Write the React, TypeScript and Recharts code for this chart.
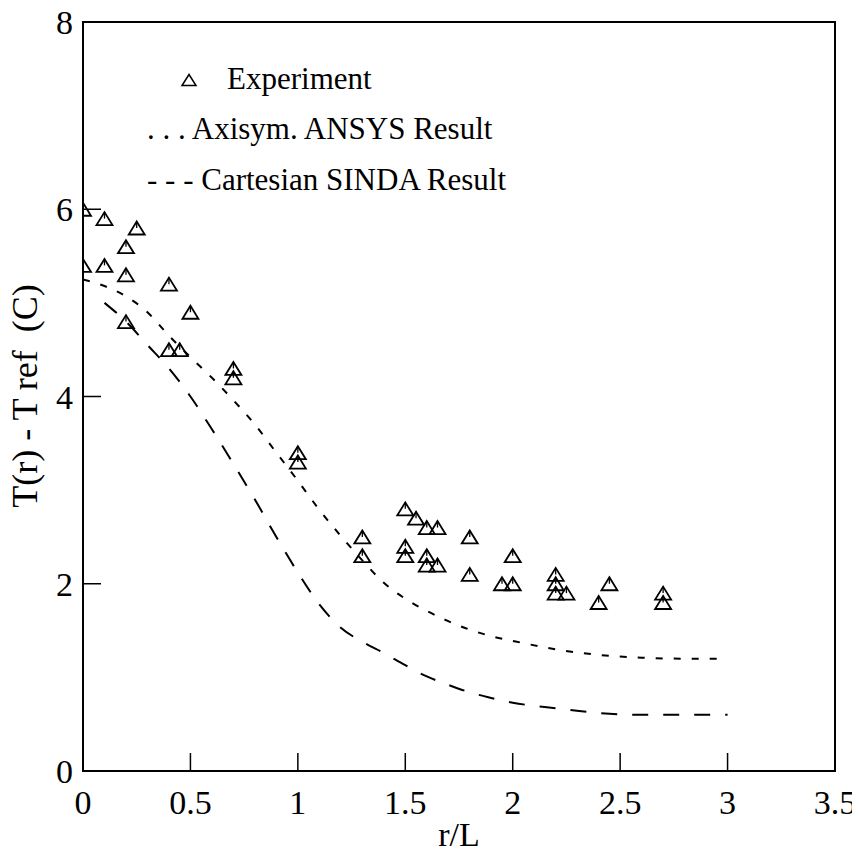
import React from 'react';
import { ComposedChart, XAxis, YAxis, Scatter, Line, ReferenceArea } from 'recharts';

const experimentX = [0, 0, 0.1, 0.1, 0.2, 0.2, 0.2, 0.25, 0.4, 0.4, 0.45, 0.5, 0.7, 0.7, 1.0, 1.0, 1.3, 1.3, 1.5, 1.5, 1.5, 1.55, 1.6, 1.6, 1.6, 1.65, 1.65, 1.8, 1.8, 1.95, 2.0, 2.0, 2.2, 2.2, 2.2, 2.25, 2.4, 2.45, 2.7, 2.7];
const experimentY = [6.0, 5.4, 5.9, 5.4, 5.6, 5.3, 4.8, 5.8, 5.2, 4.5, 4.5, 4.9, 4.3, 4.2, 3.4, 3.3, 2.5, 2.3, 2.8, 2.4, 2.3, 2.7, 2.6, 2.3, 2.2, 2.6, 2.2, 2.5, 2.1, 2.0, 2.3, 2.0, 2.1, 2.0, 1.9, 1.9, 1.8, 2.0, 1.9, 1.8];

const ansysX = [0, 0.1, 0.2, 0.3, 0.4, 0.5, 0.6, 0.7, 0.8, 0.9, 1.0, 1.1, 1.2, 1.3, 1.4, 1.5, 1.6, 1.7, 1.8, 1.9, 2.0, 2.2, 2.4, 2.6, 2.8, 3.0];
const ansysY = [5.25, 5.18, 5.07, 4.9, 4.65, 4.42, 4.2, 3.96, 3.7, 3.4, 3.1, 2.79, 2.51, 2.25, 2.01, 1.84, 1.71, 1.6, 1.51, 1.44, 1.39, 1.3, 1.24, 1.21, 1.2, 1.2];

const sindaX = [0.1, 0.2, 0.3, 0.4, 0.5, 0.6, 0.7, 0.8, 0.9, 1.0, 1.1, 1.2, 1.3, 1.4, 1.5, 1.6, 1.7, 1.8, 1.9, 2.0, 2.2, 2.4, 2.6, 2.8, 3.0];
const sindaY = [5.0, 4.8, 4.55, 4.3, 4.0, 3.65, 3.28, 2.9, 2.5, 2.12, 1.78, 1.53, 1.38, 1.26, 1.13, 1.01, 0.92, 0.84, 0.78, 0.73, 0.67, 0.62, 0.6, 0.6, 0.6];

const xTicks = [0, 0.5, 1, 1.5, 2, 2.5, 3, 3.5];
const yTicks = [0, 2, 4, 6, 8];

const xLabel = 'r/L';
const yLabel = 'T(r) - T ref  (C)';
const legendExperiment = 'Experiment';
const legendAnsys = '. . . Axisym. ANSYS Result';
const legendSinda = '- - - Cartesian SINDA Result';

const experimentData = experimentX.map((x, i) => ({ x, y: experimentY[i] }));
const ansysData = ansysX.map((x, i) => ({ x, y: ansysY[i] }));
const sindaData = sindaX.map((x, i) => ({ x, y: sindaY[i] }));

const FONT = 'Liberation Serif';

const Triangle = (props: any) => {
  const { cx, cy } = props;
  if (cx == null || cy == null) return <g />;
  const hw = 8;
  const hh = 6.5;
  return (
    <g>
      <polygon
        points={`${cx},${cy - hh} ${cx - hw},${cy + hh} ${cx + hw},${cy + hh}`}
        fill="none"
        stroke="#000"
        strokeWidth={1.8}
        strokeLinejoin="miter"
      />
      <line x1={cx} y1={cy - hh} x2={cx} y2={cy} stroke="#000" strokeWidth={1.3} />
    </g>
  );
};

export default function App() {
  return (
    <div style={{ margin: '-8px', width: 860, height: 855 }}>
      <ComposedChart
        width={860}
        height={855}
        margin={{ top: 22, right: 25, left: 0, bottom: 0 }}
      >
        <XAxis
          type="number"
          dataKey="x"
          domain={[0, 3.5]}
          ticks={xTicks}
          allowDataOverflow
          height={84}
          tickSize={-18}
          tickMargin={37}
          axisLine={{ stroke: '#000', strokeWidth: 2 }}
          tickLine={{ stroke: '#000', strokeWidth: 1.5 }}
          tick={{ fill: '#000', fontSize: 34, fontFamily: FONT }}
          interval={0}
        />
        <YAxis
          type="number"
          dataKey="y"
          domain={[0, 8]}
          ticks={yTicks}
          allowDataOverflow
          width={83}
          tickSize={-18}
          tickMargin={28}
          axisLine={{ stroke: '#000', strokeWidth: 2 }}
          tickLine={{ stroke: '#000', strokeWidth: 1.5 }}
          tick={{ fill: '#000', fontSize: 34, fontFamily: FONT }}
          interval={0}
        />
        <ReferenceArea x1={0} x2={3.5} y1={0} y2={8} fill="none" fillOpacity={0} stroke="#000" strokeWidth={2} />
        <Line
          data={ansysData}
          dataKey="y"
          type="monotone"
          stroke="#000"
          strokeWidth={2}
          strokeDasharray="7 11"
          dot={false}
          activeDot={false}
          isAnimationActive={false}
        />
        <Line
          data={sindaData}
          dataKey="y"
          type="monotone"
          stroke="#000"
          strokeWidth={2}
          strokeDasharray="16 15"
          dot={false}
          activeDot={false}
          isAnimationActive={false}
        />
        <Scatter data={experimentData} dataKey="y" shape={<Triangle />} isAnimationActive={false} />
        <polygon points="189,74.5 182,85.5 196,85.5" fill="none" stroke="#000" strokeWidth={1.5} />
        <text x={227} y={89} fontSize={31} fontFamily={FONT} fill="#000">{legendExperiment}</text>
        <text x={147} y={139} fontSize={31} fontFamily={FONT} fill="#000">{legendAnsys}</text>
        <text x={147} y={190} fontSize={31} fontFamily={FONT} fill="#000">{legendSinda}</text>
        <text x={459} y={846} fontSize={34} fontFamily={FONT} fill="#000" textAnchor="middle">{xLabel}</text>
        <text
          transform="translate(37,396) rotate(-90)"
          fontSize={36}
          fontFamily={FONT}
          fill="#000"
          textAnchor="middle"
          xmlSpace="preserve"
        >
          {yLabel}
        </text>
      </ComposedChart>
    </div>
  );
}
